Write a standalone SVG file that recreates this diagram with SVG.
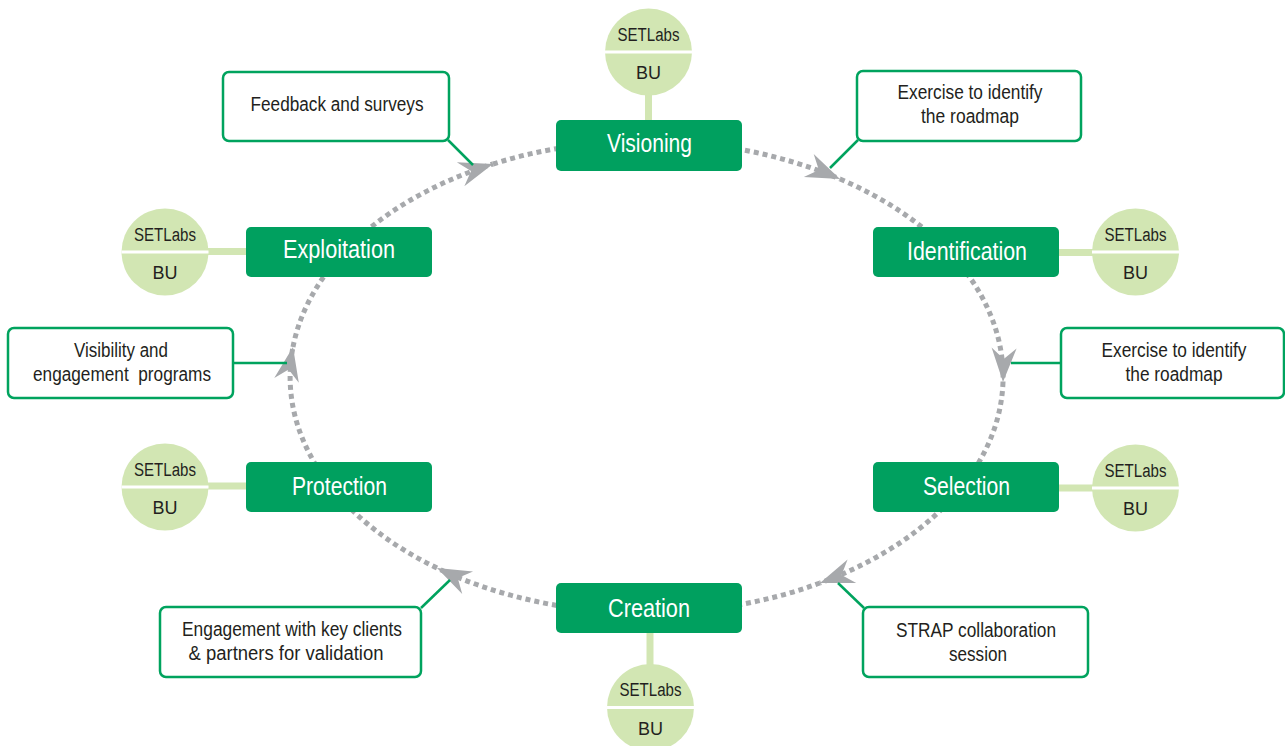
<svg xmlns="http://www.w3.org/2000/svg" width="1285" height="746" viewBox="0 0 1285 746">
<style>
.stage{fill:#00A05F}
.stage-t{fill:#ffffff;font-family:"Liberation Sans",Arial,sans-serif;font-size:25px;text-anchor:middle}
.bu{fill:#D2E6B3}
.stem{stroke:#D2E6B3;stroke-width:7}
.div{stroke:#ffffff;stroke-width:3}
.bu-t{fill:#231F20;font-family:"Liberation Sans",Arial,sans-serif;font-size:18px;text-anchor:middle}
.call{fill:#ffffff;stroke:#00A35E;stroke-width:2.5}
.call-t{fill:#231F20;font-family:"Liberation Sans",Arial,sans-serif;font-size:20px;text-anchor:middle;white-space:pre}
.lead{stroke:#00A35E;stroke-width:2.5;fill:none}
.flow{fill:none;stroke:#A7A9AC;stroke-width:5;stroke-dasharray:5 4}
</style>
<defs>
<marker id="arr" markerUnits="userSpaceOnUse" viewBox="-35 -13 37 26" markerWidth="37" markerHeight="26" refX="0" refY="0" orient="auto">
<path d="M0,0 L-34,-12.5 L-23,0 L-34,12.5 Z" fill="#A7A9AC"/>
</marker>
</defs>

<g id="connectors">
<path class="flow" d="M840,179 A356.5,236 0 0 1 949,252"/>
<path class="flow" d="M646.5,141 A356.5,236 0 0 1 840,179" marker-end="url(#arr)"/>
<path class="flow" d="M1003,382 A356.5,236 0 0 1 961,488"/>
<path class="flow" d="M949,252 A356.5,236 0 0 1 1003,382" marker-end="url(#arr)"/>
<path class="flow" d="M820,583 A356.5,236 0 0 1 646.5,613"/>
<path class="flow" d="M961,488 A356.5,236 0 0 1 820,583" marker-end="url(#arr)"/>
<path class="flow" d="M437,568 A356.5,236 0 0 1 332,488"/>
<path class="flow" d="M646.5,613 A356.5,236 0 0 1 437,568" marker-end="url(#arr)"/>
<path class="flow" d="M293,347 A356.5,236 0 0 1 345,251"/>
<path class="flow" d="M332,488 A356.5,236 0 0 1 293,347" marker-end="url(#arr)"/>
<path class="flow" d="M493,164 A356.5,236 0 0 1 646.5,141"/>
<path class="flow" d="M345,251 A356.5,236 0 0 1 493,164" marker-end="url(#arr)"/>
<line class="lead" x1="448" y1="140" x2="473" y2="165"/>
<line class="lead" x1="858" y1="140" x2="830" y2="168"/>
<line class="lead" x1="1062" y1="363" x2="1011" y2="363"/>
<line class="lead" x1="864" y1="608" x2="838" y2="583"/>
<line class="lead" x1="421" y1="608" x2="450" y2="580"/>
<line class="lead" x1="233" y1="363" x2="287" y2="363"/>
</g>

<g id="visioning">
<line class="stem" x1="648.5" y1="90" x2="648.5" y2="122"/>
<circle class="bu" cx="648.5" cy="52" r="43.5"/>
<line class="div" x1="605" y1="52" x2="692" y2="52"/>
<text class="bu-t" x="648.5" y="41" textLength="62" lengthAdjust="spacingAndGlyphs">SETLabs</text>
<text class="bu-t" x="648.5" y="79">BU</text>
<rect class="stage" x="556" y="120" width="186" height="51" rx="5"/>
<text class="stage-t" x="649.5" y="152" textLength="85" lengthAdjust="spacingAndGlyphs">Visioning</text>
</g>

<g id="identification">
<line class="stem" x1="1055" y1="252.5" x2="1095" y2="252.5"/>
<circle class="bu" cx="1135.5" cy="252" r="43.5"/>
<line class="div" x1="1092" y1="252" x2="1179" y2="252"/>
<text class="bu-t" x="1135.5" y="241" textLength="62" lengthAdjust="spacingAndGlyphs">SETLabs</text>
<text class="bu-t" x="1135.5" y="279">BU</text>
<rect class="stage" x="873" y="227" width="186" height="50" rx="5"/>
<text class="stage-t" x="967" y="260" textLength="120" lengthAdjust="spacingAndGlyphs">Identification</text>
</g>

<g id="selection">
<line class="stem" x1="1055" y1="488" x2="1095" y2="488"/>
<circle class="bu" cx="1135.5" cy="488" r="43.5"/>
<line class="div" x1="1092" y1="488" x2="1179" y2="488"/>
<text class="bu-t" x="1135.5" y="477" textLength="62" lengthAdjust="spacingAndGlyphs">SETLabs</text>
<text class="bu-t" x="1135.5" y="515">BU</text>
<rect class="stage" x="873" y="462" width="186" height="50" rx="5"/>
<text class="stage-t" x="966.5" y="495" textLength="87" lengthAdjust="spacingAndGlyphs">Selection</text>
</g>

<g id="creation">
<line class="stem" x1="650" y1="630" x2="650" y2="668"/>
<circle class="bu" cx="650.5" cy="707.5" r="43.5"/>
<line class="div" x1="607" y1="707.5" x2="694" y2="707.5"/>
<text class="bu-t" x="650.5" y="696" textLength="62" lengthAdjust="spacingAndGlyphs">SETLabs</text>
<text class="bu-t" x="650.5" y="735">BU</text>
<rect class="stage" x="556" y="583" width="186" height="50" rx="5"/>
<text class="stage-t" x="649" y="617" textLength="82" lengthAdjust="spacingAndGlyphs">Creation</text>
</g>

<g id="protection">
<line class="stem" x1="204" y1="486" x2="250" y2="486"/>
<circle class="bu" cx="165" cy="487" r="43.5"/>
<line class="div" x1="121.5" y1="487" x2="208.5" y2="487"/>
<text class="bu-t" x="165" y="476" textLength="62" lengthAdjust="spacingAndGlyphs">SETLabs</text>
<text class="bu-t" x="165" y="514">BU</text>
<rect class="stage" x="246" y="462" width="186" height="50" rx="5"/>
<text class="stage-t" x="339.5" y="495" textLength="95" lengthAdjust="spacingAndGlyphs">Protection</text>
</g>

<g id="exploitation">
<line class="stem" x1="204" y1="251.5" x2="250" y2="251.5"/>
<circle class="bu" cx="165" cy="252" r="43.5"/>
<line class="div" x1="121.5" y1="252" x2="208.5" y2="252"/>
<text class="bu-t" x="165" y="241" textLength="62" lengthAdjust="spacingAndGlyphs">SETLabs</text>
<text class="bu-t" x="165" y="279">BU</text>
<rect class="stage" x="246" y="227" width="186" height="50" rx="5"/>
<text class="stage-t" x="339" y="258" textLength="112" lengthAdjust="spacingAndGlyphs">Exploitation</text>
</g>

<g id="note-feedback">
<rect class="call" x="223" y="72" width="226" height="69" rx="6"/>
<text class="call-t" x="337" y="111" textLength="173" lengthAdjust="spacingAndGlyphs">Feedback and surveys</text>
</g>

<g id="note-roadmap-1">
<rect class="call" x="857" y="71" width="224" height="70" rx="6"/>
<text class="call-t" x="970" y="99" textLength="145" lengthAdjust="spacingAndGlyphs">Exercise to identify</text>
<text class="call-t" x="970" y="123" textLength="98" lengthAdjust="spacingAndGlyphs">the roadmap</text>
</g>

<g id="note-roadmap-2">
<rect class="call" x="1061" y="328" width="223" height="70" rx="6"/>
<text class="call-t" x="1174" y="357" textLength="145" lengthAdjust="spacingAndGlyphs">Exercise to identify</text>
<text class="call-t" x="1174" y="381" textLength="97" lengthAdjust="spacingAndGlyphs">the roadmap</text>
</g>

<g id="note-strap">
<rect class="call" x="863" y="607" width="225" height="70" rx="6"/>
<text class="call-t" x="976" y="637" textLength="160" lengthAdjust="spacingAndGlyphs">STRAP collaboration</text>
<text class="call-t" x="978" y="661" textLength="58" lengthAdjust="spacingAndGlyphs">session</text>
</g>

<g id="note-engagement">
<rect class="call" x="160" y="607" width="261" height="70" rx="6"/>
<text class="call-t" x="292" y="636" textLength="220" lengthAdjust="spacingAndGlyphs">Engagement with key clients</text>
<text class="call-t" x="286" y="660" textLength="195" lengthAdjust="spacingAndGlyphs">&amp; partners for validation</text>
</g>

<g id="note-visibility">
<rect class="call" x="8" y="328" width="225" height="70" rx="6"/>
<text class="call-t" x="121" y="357" textLength="94" lengthAdjust="spacingAndGlyphs">Visibility and</text>
<text class="call-t" x="122" y="381" textLength="178" lengthAdjust="spacingAndGlyphs" xml:space="preserve">engagement  programs</text>
</g>
</svg>
